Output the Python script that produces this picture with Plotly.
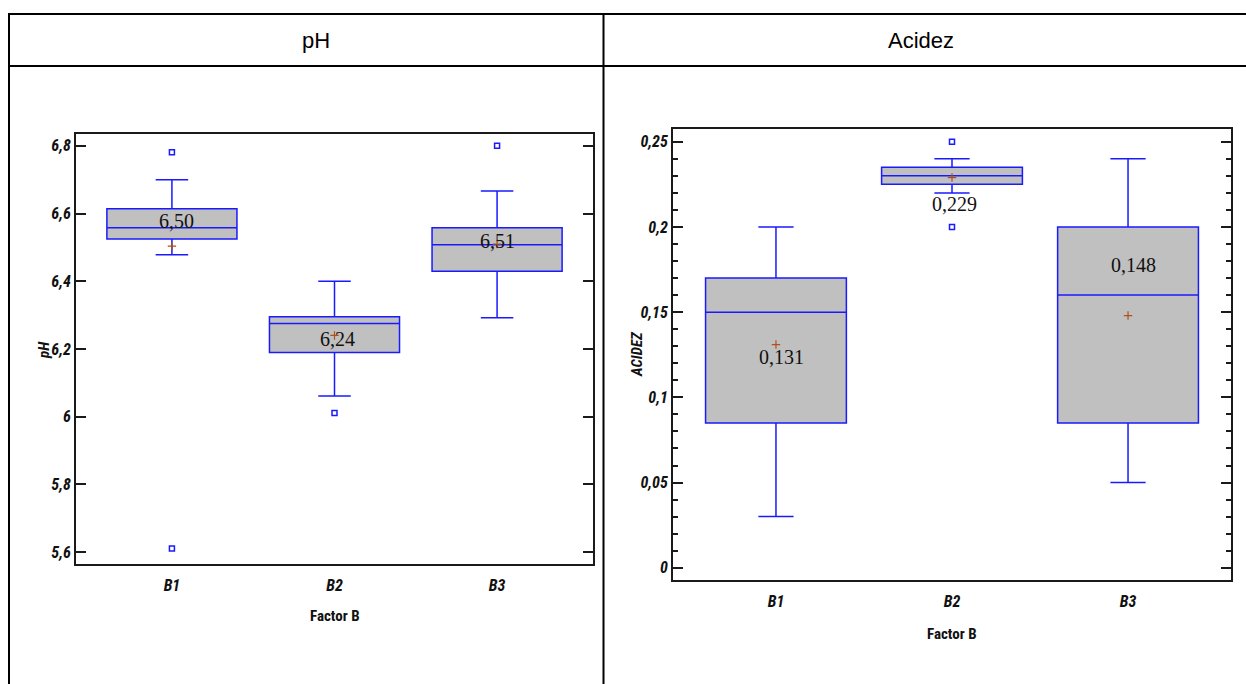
import plotly.graph_objects as go

W, H = 1246, 684

# ---------------- data ----------------
categories = ["B1", "B2", "B3"]

ph_q1 = [6.525, 6.190, 6.430]
ph_median = [6.558, 6.275, 6.508]
ph_q3 = [6.614, 6.295, 6.558]
ph_lower = [6.478, 6.061, 6.292]
ph_upper = [6.700, 6.400, 6.667]
ph_mean = [6.504, 6.240, 6.510]
ph_out_cat = ["B1", "B1", "B2", "B3"]
ph_out_val = [6.781, 5.611, 6.011, 6.800]
ph_tickvals = [5.6, 5.8, 6.0, 6.2, 6.4, 6.6, 6.8]
ph_ticktext = ["5,6", "5,8", "6", "6,2", "6,4", "6,6", "6,8"]

ac_q1 = [0.085, 0.225, 0.085]
ac_median = [0.150, 0.230, 0.160]
ac_q3 = [0.170, 0.235, 0.200]
ac_lower = [0.030, 0.220, 0.050]
ac_upper = [0.200, 0.240, 0.240]
ac_mean = [0.131, 0.229, 0.148]
ac_out_cat = ["B2", "B2"]
ac_out_val = [0.250, 0.200]
ac_tickvals = [0, 0.05, 0.10, 0.15, 0.20, 0.25]
ac_ticktext = ["0", "0,05", "0,1", "0,15", "0,2", "0,25"]

# ---------------- style ----------------
BLUE = "#1a1aff"
GREY = "#c0c0c0"
MEAN_C = "#b0501a"
NARROW = "Liberation Sans Narrow, Arial Narrow, Roboto Condensed, DejaVu Sans Condensed, Liberation Sans, Arial"
SERIF = "Liberation Serif, Times New Roman, serif"
SANS = "Liberation Sans, Arial, sans-serif"


def px_x(v):
    return v / W


def px_y(v):
    return 1 - v / H


def fmt(v, d):
    return f"{v:.{d}f}".replace(".", ",")


fig = go.Figure()


def add_panel(xa, ya, q1, med, q3, lo, up, mean, oc, ov, dec, shifts):
    fig.add_trace(go.Box(
        x=categories, q1=q1, median=med, q3=q3, lowerfence=lo, upperfence=up,
        width=0.8, whiskerwidth=0.25, fillcolor=GREY,
        line=dict(color=BLUE, width=1.5), boxpoints=False,
        xaxis=xa, yaxis=ya, showlegend=False, hoverinfo="skip"))
    fig.add_trace(go.Scatter(
        x=oc, y=ov, mode="markers", xaxis=xa, yaxis=ya, showlegend=False,
        marker=dict(symbol="square-open", size=5, color=BLUE, line=dict(width=1.5, color=BLUE))))
    fig.add_trace(go.Scatter(
        x=categories, y=mean, mode="markers", xaxis=xa, yaxis=ya, showlegend=False,
        marker=dict(symbol="cross-thin", size=6, line=dict(width=1.2, color=MEAN_C))))
    for c, m, (dx, dy) in zip(categories, mean, shifts):
        fig.add_annotation(x=c, y=m, xref=xa, yref=ya.replace("yaxis", "y"),
                           text=fmt(m, dec), showarrow=False, xshift=dx, yshift=dy,
                           xanchor="center", yanchor="middle",
                           font=dict(family=SERIF, size=20, color="#111"))


add_panel("x", "y", ph_q1, ph_median, ph_q3, ph_lower, ph_upper, ph_mean,
          ph_out_cat, ph_out_val, 2, [(5, 25), (3, -4), (0, 3)])
add_panel("x2", "y2", ac_q1, ac_median, ac_q3, ac_lower, ac_upper, ac_mean,
          ac_out_cat, ac_out_val, 3, [(6, -12), (2, -26), (5, 51)])

tickfont = dict(family=NARROW, size=16, color="#111", weight="bold", style="italic")
axline = dict(showline=True, linecolor="#1a1a1a", linewidth=2, mirror=True)

fig.update_layout(
    width=W, height=H, margin=dict(l=0, r=0, t=0, b=0),
    paper_bgcolor="white", plot_bgcolor="white", showlegend=False,
    xaxis=dict(domain=[px_x(76), px_x(593)], anchor="y", type="category",
               categoryorder="array", categoryarray=categories,
               range=[-0.59, 2.59], showgrid=False, zeroline=False,
               ticks="", tickfont=tickfont, ticklabelstandoff=6, **axline),
    yaxis=dict(domain=[px_y(564), px_y(134)], anchor="x",
               range=[5.565, 6.835], showgrid=False, zeroline=False,
               tickvals=ph_tickvals, ticktext=ph_ticktext,
               ticks="inside", ticklen=10, tickwidth=2, tickcolor="#1a1a1a",
               tickfont=tickfont, showline=True, linecolor="#1a1a1a", linewidth=2, mirror="ticks"),
    xaxis2=dict(domain=[px_x(673), px_x(1231)], anchor="y2", type="category",
                categoryorder="array", categoryarray=categories,
                range=[-0.585, 2.585], showgrid=False, zeroline=False,
                ticks="", tickfont=tickfont, ticklabelstandoff=6, **axline),
    yaxis2=dict(domain=[px_y(580), px_y(129)], anchor="x2",
                range=[-0.0072, 0.2575], showgrid=False, zeroline=False,
                tickvals=ac_tickvals, ticktext=ac_ticktext,
                ticks="inside", ticklen=10, tickwidth=2, tickcolor="#1a1a1a",
                minor=dict(dtick=0.01, tick0=0, ticks="inside", ticklen=5, tickwidth=1.5, tickcolor="#1a1a1a"),
                tickfont=tickfont, showline=True, linecolor="#1a1a1a", linewidth=2, mirror="ticks"),
)

# table frame
lines = [
    (px_x(8), px_y(14), 1.0, px_y(14)),
    (px_x(8), px_y(66), 1.0, px_y(66)),
    (px_x(9), px_y(14), px_x(9), 0.0),
    (px_x(603.5), px_y(14), px_x(603.5), 0.0),
]
for x0, y0, x1, y1 in lines:
    fig.add_shape(type="line", xref="paper", yref="paper", x0=x0, y0=y0, x1=x1, y1=y1,
                  line=dict(color="black", width=2))


def label(xp, yp, text, font, angle=0):
    fig.add_annotation(x=px_x(xp), y=px_y(yp), xref="paper", yref="paper", text=text,
                       showarrow=False, xanchor="center", yanchor="middle",
                       textangle=angle, font=font)


head = dict(family=SANS, size=22, color="black")
label(316, 40, "pH", head)
label(921, 40, "Acidez", head)

ttl = dict(family=NARROW, size=15, color="#111", weight="bold")
label(335, 616, "Factor B", ttl)
label(952, 634, "Factor B", ttl)
label(44, 350, "pH", dict(ttl, style="italic"), -90)
label(637, 354, "ACIDEZ", dict(ttl, style="italic"), -90)

fig.write_html("out.html")
